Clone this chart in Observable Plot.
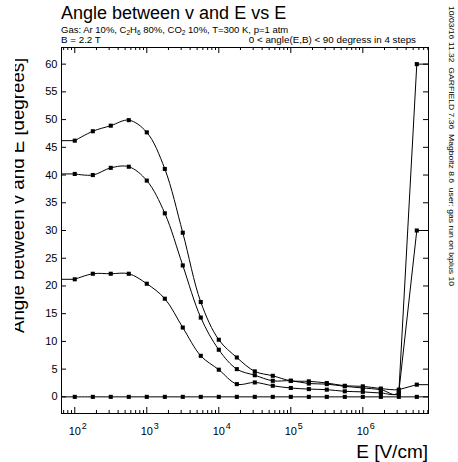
<!DOCTYPE html>
<html>
<head>
<meta charset="utf-8">
<script src="https://cdn.jsdelivr.net/npm/d3@7"></script>
<script src="https://cdn.jsdelivr.net/npm/@observablehq/plot@0.6"></script>
<style>
  html, body { margin: 0; padding: 0; background: #fff; }
</style>
</head>
<body>
<div id="chart"></div>
<script>
// Electric field values [V/cm]
const E = [100, 178, 316, 562, 1000, 1780, 3160, 5620, 10000, 17800, 31600, 56200,
           100000, 178000, 316000, 562000, 1000000, 1780000, 3160000, 5620000];
// Angle between v and E [degrees], one list per angle(E,B) step
const angle90 = [46.2, 47.9, 48.9, 49.9, 47.7, 41.1, 29.6, 17.1, 10.3, 7.1, 4.6, 3.8, 2.9, 2.8, 2.5, 2.0, 1.9, 1.5, 1.3, 2.2];
const angle60 = [40.2, 40.0, 41.3, 41.5, 39.0, 33.1, 23.7, 14.3, 8.5, 5.0, 3.9, 2.9, 2.9, 2.4, 2.3, 1.9, 1.6, 1.3, 0.6, 60];
const angle30 = [21.2, 22.2, 22.2, 22.2, 20.4, 17.7, 12.5, 7.4, 4.9, 2.3, 2.6, 2.0, 1.6, 1.4, 1.3, 1.0, 0.9, 0.7, 0.8, 30];
const angle0  = [0, 0, 0, 0, 0, 0, 0, 0, 0, 0, 0, 0, 0, 0, 0, 0, 0, 0, 0, 0];
// Axis ticks
const yTicks = [0, 5, 10, 15, 20, 25, 30, 35, 40, 45, 50, 55, 60];
const xDecades = [100, 1000, 10000, 100000, 1000000];
const xDecadeExp = ["2", "3", "4", "5", "6"];

const xDomain = [65.4, 8.17e6];
const yDomain = [-3, 63];

const W = 458, H = 462;
const mL = 61, mR = 30, mT = 47, mB = 49;
const pw = W - mL - mR, ph = H - mT - mB;

const series = [
  {key: "90", values: angle90},
  {key: "60", values: angle60},
  {key: "30", values: angle30},
  {key: "0", values: angle0}
];
const points = series.flatMap(s => E.map((e, i) => ({s: s.key, E: e, v: s.values[i]})));
// flat continuation of each curve to the frame edges
const ends = series.flatMap(s => [
  {x1: xDomain[0], x2: E[0], v: s.values[0]},
  {x1: E[E.length - 1], x2: xDomain[1], v: s.values[s.values.length - 1]}
]);

// minor x ticks (k * 10^n inside the domain)
const xMinor = [];
for (let n = 1; n <= 6; n++) for (let k = 2; k <= 9; k++) {
  const v = k * Math.pow(10, n);
  if (v > xDomain[0] && v < xDomain[1]) xMinor.push(v);
}

// Catmull-Rom spline whose final segment is drawn straight
function curveSplineStraightTail(context) {
  const cmds = [];
  const rec = {
    moveTo: (...a) => cmds.push(["moveTo", a]),
    lineTo: (...a) => cmds.push(["lineTo", a]),
    bezierCurveTo: (...a) => cmds.push(["bezierCurveTo", a]),
    closePath: () => cmds.push(["closePath", []])
  };
  const inner = d3.curveCatmullRom(rec);
  return {
    areaStart() { inner.areaStart(); },
    areaEnd() { inner.areaEnd(); },
    lineStart() { cmds.length = 0; inner.lineStart(); },
    point(x, y) { inner.point(x, y); },
    lineEnd() {
      inner.lineEnd();
      let li = -1;
      cmds.forEach((c, i) => { if (c[0] === "bezierCurveTo") li = i; });
      if (li >= 0) { const a = cmds[li][1]; cmds[li] = ["lineTo", [a[4], a[5]]]; }
      for (const [m, a] of cmds) context[m](...a);
      cmds.length = 0;
    }
  };
}

const svg = Plot.plot({
  width: W, height: H,
  marginLeft: mL, marginRight: mR, marginTop: mT, marginBottom: mB,
  style: {fontFamily: "'Liberation Sans', Arial, sans-serif", color: "black", background: "white", overflow: "visible"},
  x: {type: "log", domain: xDomain, axis: null},
  y: {domain: yDomain, axis: null},
  marks: [
    Plot.frame({stroke: "black", strokeWidth: 1}),
    // y ticks left and right (inward)
    Plot.ruleY(yTicks, {y: d => d, insetRight: pw - 5, stroke: "black"}),
    Plot.ruleY(yTicks, {y: d => d, insetLeft: pw - 5, stroke: "black"}),
    // x ticks bottom and top (inward)
    Plot.ruleX(xDecades, {x: d => d, insetTop: ph - 6, stroke: "black"}),
    Plot.ruleX(xDecades, {x: d => d, insetBottom: ph - 6, stroke: "black"}),
    Plot.ruleX(xMinor, {x: d => d, insetTop: ph - 3, stroke: "black"}),
    Plot.ruleX(xMinor, {x: d => d, insetBottom: ph - 3, stroke: "black"}),
    // y tick labels
    Plot.text(yTicks, {y: d => d, frameAnchor: "left", dx: -4, textAnchor: "end", text: d => String(d), fontSize: 11, fill: "black"}),
    // x tick labels 10^n
    Plot.text(xDecades, {x: d => d, frameAnchor: "bottom", dy: 21, text: () => "10", fontSize: 11, fill: "black"}),
    Plot.text(xDecades, {x: d => d, frameAnchor: "bottom", dy: 15, dx: 7, textAnchor: "start", text: (d, i) => xDecadeExp[i], fontSize: 9, fill: "black"}),
    // curves
    Plot.link(ends, {x1: "x1", x2: "x2", y1: "v", y2: "v", stroke: "black", strokeWidth: 1}),
    Plot.line(points, {x: "E", y: "v", z: "s", curve: curveSplineStraightTail, stroke: "black", strokeWidth: 1}),
    Plot.dot(points, {x: "E", y: "v", symbol: "square", r: 2.3, fill: "black", stroke: "none"})
  ]
});

const sel = d3.select(svg);
const font = "'Liberation Sans', Arial, sans-serif";

sel.append("text").attr("x", 61).attr("y", 18.5).attr("font-size", 18).attr("font-family", font)
  .attr("text-anchor", "start").attr("fill", "black").text("Angle between v and E vs E");

const sub = sel.append("text").attr("x", 61).attr("y", 33.3).attr("font-size", 9.5).attr("font-family", font)
  .attr("text-anchor", "start").attr("fill", "black");
sub.append("tspan").text("Gas: Ar 10%, C");
sub.append("tspan").attr("dy", 2).attr("font-size", 6.5).text("2");
sub.append("tspan").attr("dy", -2).text("H");
sub.append("tspan").attr("dy", 2).attr("font-size", 6.5).text("6");
sub.append("tspan").attr("dy", -2).text(" 80%, CO");
sub.append("tspan").attr("dy", 2).attr("font-size", 6.5).text("2");
sub.append("tspan").attr("dy", -2).text(" 10%, T=300 K, p=1 atm");

sel.append("text").attr("x", 61).attr("y", 42.5).attr("font-size", 9.8).attr("font-family", font)
  .attr("text-anchor", "start").attr("fill", "black").text("B = 2.2 T");
sel.append("text").attr("x", 416).attr("y", 42.5).attr("font-size", 9.8).attr("font-family", font)
  .attr("text-anchor", "end").attr("fill", "black").text("0 < angle(E,B) < 90 degress in 4 steps");

// x axis title
sel.append("text").attr("x", 428).attr("y", 457.5).attr("font-size", 19).attr("font-family", font)
  .attr("text-anchor", "end").attr("fill", "black").text("E [V/cm]");

// y axis title (clipped at the left like the reference)
const defs = sel.append("defs");
defs.append("clipPath").attr("id", "ylabclip").append("rect")
  .attr("x", 15).attr("y", 0).attr("width", 40).attr("height", H);
sel.append("g").attr("clip-path", "url(#ylabclip)")
  .append("text").attr("transform", "translate(24,333) rotate(-90)")
  .attr("text-anchor", "start")
  .attr("font-size", 18.7).attr("font-family", font).attr("fill", "black")
  .text("Angle between v and E [degrees]");

// stamp along the right edge
sel.append("text").attr("transform", "translate(449,6) rotate(90)")
  .attr("text-anchor", "start")
  .attr("font-size", 6.5).attr("font-family", font).attr("fill", "black")
  .attr("textLength", 280).attr("lengthAdjust", "spacingAndGlyphs")
  .text("10/03/16 11.32  GARFIELD 7.36  Magboltz 8.6  user: gas run on lxplus 10");

document.getElementById("chart").appendChild(svg);
</script>
</body>
</html>
